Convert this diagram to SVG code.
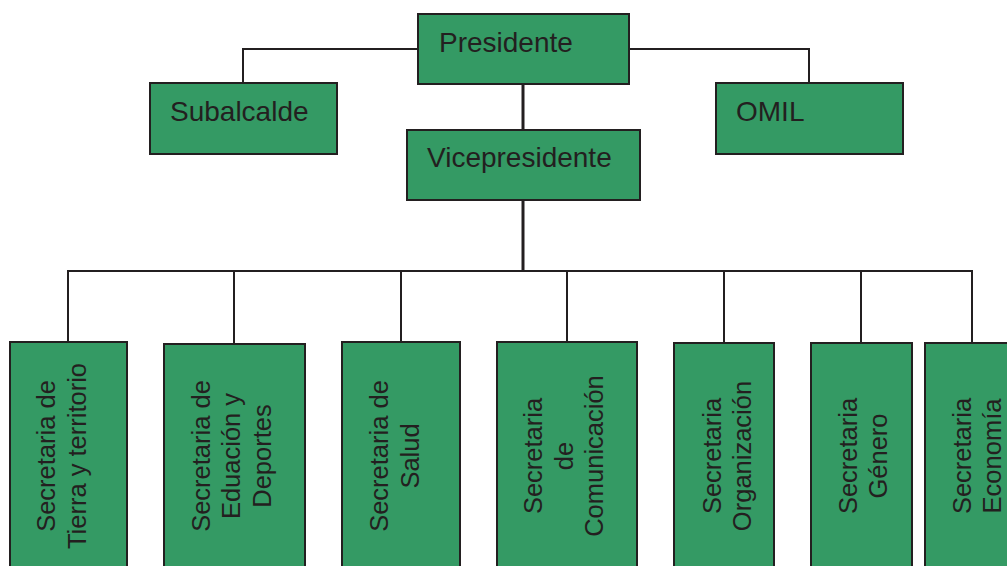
<svg xmlns="http://www.w3.org/2000/svg" width="1007" height="566" viewBox="0 0 1007 566">
<style>
.box{fill:#349a64;stroke:#231f20;stroke-width:2}
.ln{fill:none;stroke:#231f20;stroke-width:2}
.lnb{fill:none;stroke:#231f20;stroke-width:3}
.t{font-family:"Liberation Sans",Arial,sans-serif;font-size:28px;fill:#231f20}
.v{font-family:"Liberation Sans",Arial,sans-serif;font-size:25.5px;fill:#231f20;text-anchor:middle}
</style>
<rect width="1007" height="566" fill="#ffffff"/>
<g id="connectors">
<polyline class="ln" points="418,49 243,49 243,83"/>
<polyline class="ln" points="629,49 809,49 809,83"/>
<line class="lnb" x1="523" y1="84" x2="523" y2="130"/>
<line class="lnb" x1="523" y1="200" x2="523" y2="271"/>
<polyline class="ln" points="68,342 68,271 972,271 972,343"/>
<line class="ln" x1="234" y1="271" x2="234" y2="344"/>
<line class="ln" x1="401" y1="271" x2="401" y2="342"/>
<line class="ln" x1="567" y1="271" x2="567" y2="342"/>
<line class="ln" x1="724" y1="271" x2="724" y2="343"/>
<line class="ln" x1="861" y1="271" x2="861" y2="343"/>
</g>
<g id="presidente"><rect class="box" x="418" y="14" width="211" height="70"/><text class="t" x="439" y="52">Presidente</text></g>
<g id="subalcalde"><rect class="box" x="150" y="83" width="187" height="71"/><text class="t" x="170" y="121">Subalcalde</text></g>
<g id="omil"><rect class="box" x="716" y="83" width="187" height="71"/><text class="t" x="736" y="121">OMIL</text></g>
<g id="vicepresidente"><rect class="box" x="407" y="130" width="233" height="70"/><text class="t" x="427" y="167">Vicepresidente</text></g>
<g id="sec-tierra"><rect class="box" x="10" y="342" width="117" height="240"/>
<text class="v" transform="translate(54.5,456) rotate(-90)">Secretaria de</text>
<text class="v" transform="translate(85.5,456) rotate(-90)">Tierra y territorio</text></g>
<g id="sec-educacion"><rect class="box" x="164" y="344" width="141" height="240"/>
<text class="v" transform="translate(209.5,456) rotate(-90)">Secretaria de</text>
<text class="v" transform="translate(240,456) rotate(-90)">Eduación y</text>
<text class="v" transform="translate(270.5,456) rotate(-90)">Deportes</text></g>
<g id="sec-salud"><rect class="box" x="342" y="342" width="118" height="240"/>
<text class="v" transform="translate(388,456) rotate(-90)">Secretaria de</text>
<text class="v" transform="translate(419,456) rotate(-90)">Salud</text></g>
<g id="sec-comunicacion"><rect class="box" x="497" y="342" width="140" height="240"/>
<text class="v" transform="translate(542,456) rotate(-90)">Secretaria</text>
<text class="v" transform="translate(572.5,456) rotate(-90)">de</text>
<text class="v" transform="translate(603,456) rotate(-90)">Comunicación</text></g>
<g id="sec-organizacion"><rect class="box" x="674" y="343" width="100" height="240"/>
<text class="v" transform="translate(720.5,456) rotate(-90)">Secretaria</text>
<text class="v" transform="translate(750.5,456) rotate(-90)">Organización</text></g>
<g id="sec-genero"><rect class="box" x="811" y="343" width="101" height="240"/>
<text class="v" transform="translate(856.5,456) rotate(-90)">Secretaria</text>
<text class="v" transform="translate(887,456) rotate(-90)">Género</text></g>
<g id="sec-economia"><rect class="box" x="925" y="343" width="100" height="240"/>
<text class="v" transform="translate(970.5,456) rotate(-90)">Secretaria</text>
<text class="v" transform="translate(1000.5,456) rotate(-90)">Economía</text></g>
</svg>
